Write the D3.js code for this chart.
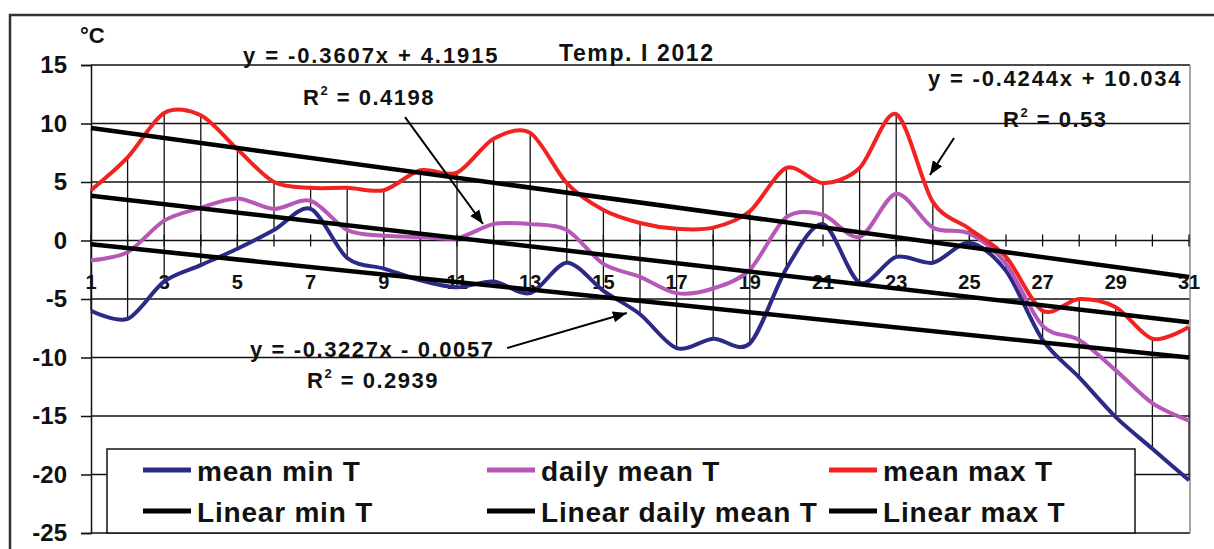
<!DOCTYPE html>
<html>
<head>
<meta charset="utf-8">
<script src="https://cdn.jsdelivr.net/npm/d3@7"></script>
<style>
  body { margin: 0; background: #fff; }
  text { font-family: "Liberation Sans", Arial, sans-serif; font-weight: bold; fill: #111; }
</style>
</head>
<body>
<div id="viz"></div>
<script>
// Tagesdaten Januar 2012
const days = d3.range(1, 32)
const minT = [-6.0, -6.7, -3.5, -2.1, -0.7, 0.9, 2.7, -1.5, -2.4, -3.4, -4.0, -3.5, -4.5, -1.9, -4.3, -6.3,
  -9.2, -8.4, -8.8, -2.4, 1.4, -3.6, -1.4, -1.9, -0.2, -2.6, -8.5, -11.7, -15.1, -17.8, -20.5]
const meanT = [-1.7, -1.0, 1.7, 2.8, 3.6, 2.7, 3.4, 0.9, 0.4, 0.3, 0.2, 1.4, 1.4, 0.9, -2.0, -3.1,
  -4.5, -4.1, -2.5, 2.0, 2.2, 0.3, 4.0, 1.1, 0.6, -2.0, -7.3, -8.5, -11.1, -13.9, -15.4]
const maxT = [4.3, 7.1, 10.9, 10.7, 7.8, 5.0, 4.5, 4.5, 4.3, 6.0, 5.8, 8.7, 9.2, 4.9, 2.6, 1.5,
  1.0, 1.1, 2.5, 6.2, 4.9, 6.2, 10.8, 3.3, 1.0, -1.4, -6.0, -5.0, -5.7, -8.4, -7.4]

// Trendlinien (Steigung, Achsenabschnitt)
const trendSlopes = [-0.3227, -0.3607, -0.4244]
const trendIntercepts = [-0.0057, 4.1915, 10.034]

const yTicks = [-25, -20, -15, -10, -5, 0, 5, 10, 15]
const xTickLabels = d3.range(1, 32, 2)

const seriesNames = ["mean min T", "daily mean T", "mean max T"]
const trendNames = ["Linear min T", "Linear daily mean T", "Linear max T"]
const seriesColors = ["#2b2a86", "#b757b7", "#f02222"]

// Pfeile [vonTag, vonWert, bisTag, bisWert]
const arrows = [
  [9.58, 10.55, 11.71, 1.41],
  [24.58, 8.76, 23.92, 5.6],
  [12.37, -9.19, 15.64, -6.2]
]

const width = 1214
const height = 549

const svg = d3.select("#viz").append("svg")
  .attr("width", width)
  .attr("height", height)

const x = d3.scaleLinear().domain([1, 31]).range([91, 1189])
const y = d3.scaleLinear().domain([-25, 15]).range([533, 65])

// Rahmen
svg.append("path")
  .attr("d", "M10,549 V15 H1214")
  .attr("fill", "none")
  .attr("stroke", "#333")
  .attr("stroke-width", 2.5)

// Gitternetz
svg.append("g").selectAll("line")
  .data(yTicks)
  .enter().append("line")
  .attr("x1", x(1)).attr("x2", x(31) + 1)
  .attr("y1", d => y(d)).attr("y2", d => y(d))
  .attr("stroke", "#111")
  .attr("stroke-width", 1.3)

svg.append("line")
  .attr("x1", x(31) + 1).attr("x2", x(31) + 1)
  .attr("y1", y(15)).attr("y2", y(-25))
  .attr("stroke", "#888")
  .attr("stroke-width", 1.5)

// Y-Achse
const yAxis = svg.append("g")
  .attr("transform", `translate(${x(1)},0)`)
  .call(d3.axisLeft(y).tickValues(yTicks).tickFormat(d => String(d)).tickSize(10).tickPadding(14))
yAxis.select(".domain").attr("stroke", "#111").attr("stroke-width", 1.5)
yAxis.selectAll(".tick line").attr("stroke", "#111").attr("stroke-width", 1.5)
yAxis.selectAll("text")
  .style("font-size", "24px")
  .style("font-family", "Liberation Sans, Arial, sans-serif")
  .style("font-weight", "bold")
  .attr("fill", "#111")

svg.append("text")
  .attr("x", 80).attr("y", 43)
  .style("font-size", "22px")
  .text("°C")

// Hoch-Tief-Linien
svg.append("g").selectAll("line")
  .data(days)
  .enter().append("line")
  .attr("x1", d => x(d)).attr("x2", d => x(d))
  .attr("y1", (d, i) => y(Math.max(minT[i], meanT[i], maxT[i])))
  .attr("y2", (d, i) => y(Math.min(minT[i], meanT[i], maxT[i])))
  .attr("stroke", "#111")
  .attr("stroke-width", 1.3)

// X-Achse bei 0
svg.append("g").selectAll("line")
  .data(days)
  .enter().append("line")
  .attr("x1", d => x(d)).attr("x2", d => x(d))
  .attr("y1", y(0) - 6).attr("y2", y(0) + 6)
  .attr("stroke", "#111")
  .attr("stroke-width", 1.3)

svg.append("g").selectAll("text")
  .data(xTickLabels)
  .enter().append("text")
  .attr("x", d => x(d))
  .attr("y", 289)
  .attr("text-anchor", "middle")
  .style("font-size", "20px")
  .text(d => d)

// Kurven
const line = d3.line()
  .x((d, i) => x(days[i]))
  .y(d => y(d))
  .curve(d3.curveCardinal.tension(0.1))

svg.append("g").selectAll("path")
  .data([minT, meanT, maxT])
  .enter().append("path")
  .attr("d", d => line(d))
  .attr("fill", "none")
  .attr("stroke", (d, i) => seriesColors[i])
  .attr("stroke-width", 4)
  .attr("stroke-linejoin", "round")

// Trendlinien
svg.append("g").selectAll("line")
  .data(trendSlopes)
  .enter().append("line")
  .attr("x1", x(1)).attr("x2", x(31))
  .attr("y1", (d, i) => y(d * 1 + trendIntercepts[i]))
  .attr("y2", (d, i) => y(d * 31 + trendIntercepts[i]))
  .attr("stroke", "#000")
  .attr("stroke-width", 4.5)

// Beschriftungen
function r2Label(px, py, value) {
  const t = svg.append("text")
    .attr("x", px).attr("y", py)
    .style("font-size", "22px")
    .style("letter-spacing", "1.5px")
  t.append("tspan").text("R")
  t.append("tspan").attr("dy", -10).style("font-size", "13px").text("2")
  t.append("tspan").attr("dy", 10).text(" = " + value)
}

svg.append("text").attr("x", 243).attr("y", 63)
  .style("font-size", "22px").style("letter-spacing", "1.9px")
  .text("y = -0.3607x + 4.1915")
r2Label(303, 105, "0.4198")

svg.append("text").attr("x", 559).attr("y", 61)
  .style("font-size", "23px").style("letter-spacing", "1.6px")
  .text("Temp. I 2012")

svg.append("text").attr("x", 928).attr("y", 86)
  .style("font-size", "22px").style("letter-spacing", "1.8px")
  .text("y = -0.4244x + 10.034")
r2Label(1003, 127, "0.53")

svg.append("text").attr("x", 250).attr("y", 357)
  .style("font-size", "22px").style("letter-spacing", "1.6px")
  .text("y = -0.3227x - 0.0057")
r2Label(307, 388, "0.2939")

// Pfeile
svg.append("defs").append("marker")
  .attr("id", "head")
  .attr("viewBox", "0 0 10 10")
  .attr("refX", 10).attr("refY", 5)
  .attr("markerWidth", 7).attr("markerHeight", 7)
  .attr("markerUnits", "strokeWidth")
  .attr("orient", "auto")
  .append("path")
  .attr("d", "M0,1 L10,5 L0,9 Z")
  .attr("fill", "#000")

svg.append("g").selectAll("line")
  .data(arrows)
  .enter().append("line")
  .attr("x1", d => x(d[0])).attr("y1", d => y(d[1]))
  .attr("x2", d => x(d[2])).attr("y2", d => y(d[3]))
  .attr("stroke", "#000")
  .attr("stroke-width", 2)
  .attr("marker-end", "url(#head)")

// Legende
const legend = svg.append("g")
legend.append("rect")
  .attr("x", 107).attr("y", 449)
  .attr("width", 1028).attr("height", 84)
  .attr("fill", "#fff")
  .attr("stroke", "#111")
  .attr("stroke-width", 1.5)

const colX = [143, 487, 829]
const legendRows = [
  { names: seriesNames, colors: seriesColors, y: 470 },
  { names: trendNames, colors: ["#000", "#000", "#000"], y: 511 }
]
legendRows.forEach(row => {
  row.names.forEach((name, i) => {
    legend.append("line")
      .attr("x1", colX[i]).attr("x2", colX[i] + 48)
      .attr("y1", row.y).attr("y2", row.y)
      .attr("stroke", row.colors[i])
      .attr("stroke-width", 5)
    legend.append("text")
      .attr("x", colX[i] + 54).attr("y", row.y + 11)
      .style("font-size", "28px")
      .style("letter-spacing", "0.8px")
      .text(name)
  })
})
</script>
</body>
</html>
